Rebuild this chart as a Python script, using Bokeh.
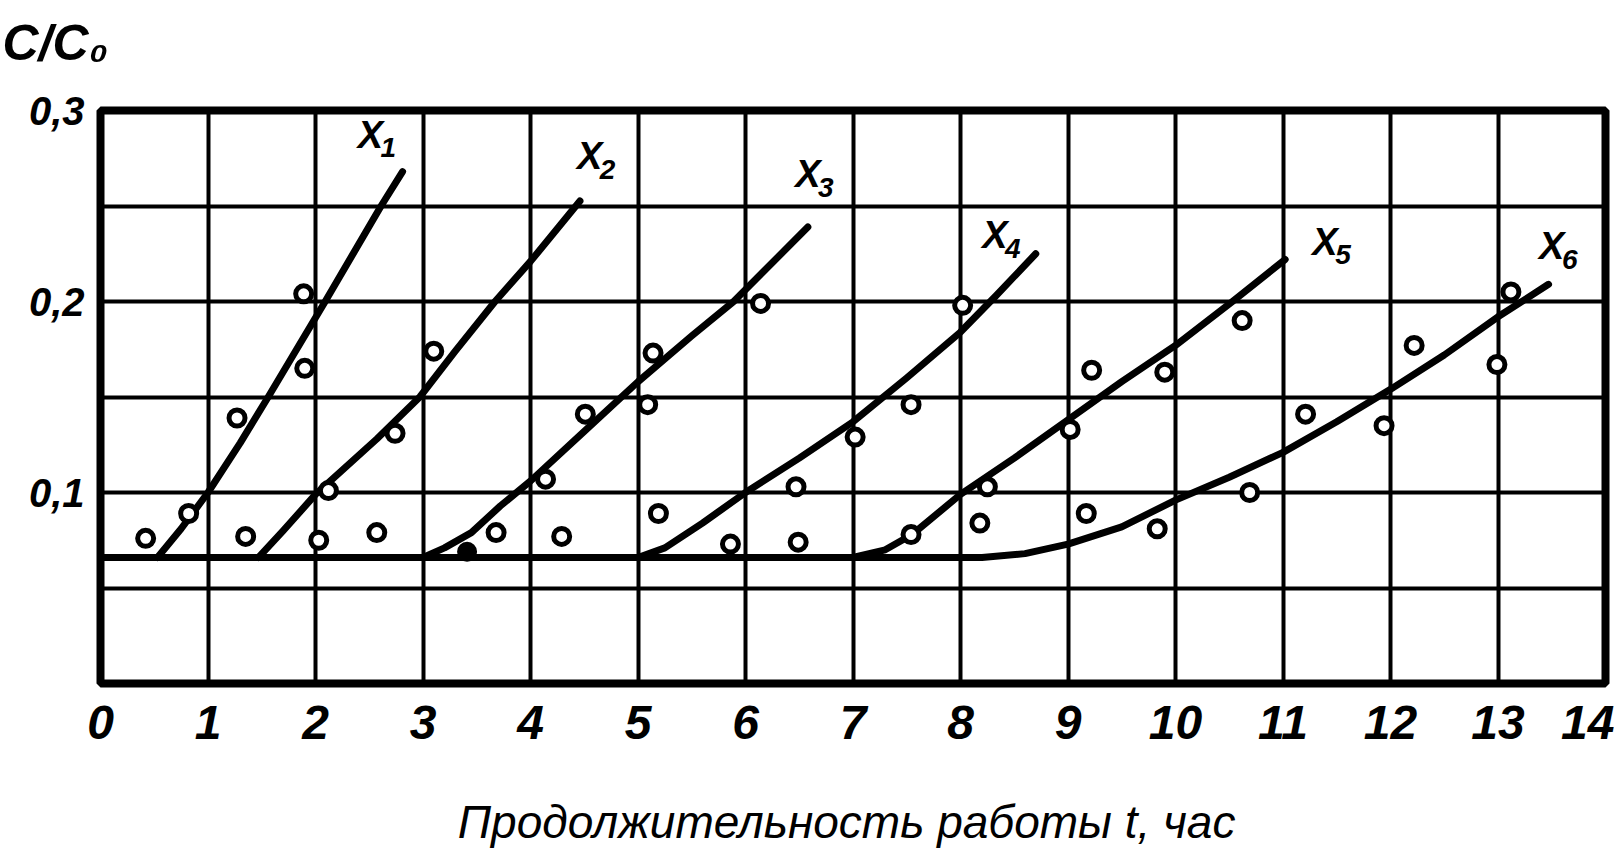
from bokeh.plotting import figure
from bokeh.models import Range1d, FixedTicker, Title
from bokeh.core.properties import value
from bokeh.embed import file_html
from bokeh.resources import INLINE

# ---------------- data ----------------
x_ticks = list(range(0, 15))
y_grid = [0.0, 0.05, 0.1, 0.15, 0.2, 0.25, 0.3]
y_ticks = [0.1, 0.2, 0.3]
y_tick_labels = {0.1: "0,1", 0.2: "0,2", 0.3: "0,3"}

x_title = "Продолжительность  работы t, час"
y_title = "C/C₀"

# measured points (t, C/C0)
point_t = [0.42, 0.82, 1.27, 1.35, 1.89, 1.90, 2.03, 2.12, 2.57, 2.74, 3.10,
           3.68, 4.14, 4.29, 4.51, 5.09, 5.14, 5.19, 5.86, 6.14, 6.47, 6.49,
           7.02, 7.54, 7.54, 8.02, 8.18, 8.25, 9.02, 9.17, 9.22, 9.90, 9.83,
           10.62, 10.69, 11.21, 11.94, 12.22, 12.99, 13.12]
point_c = [0.076, 0.089, 0.139, 0.077, 0.204, 0.165, 0.075, 0.101, 0.079, 0.131, 0.174,
           0.079, 0.107, 0.077, 0.141, 0.146, 0.173, 0.089, 0.073, 0.199, 0.103, 0.074,
           0.129, 0.146, 0.078, 0.198, 0.084, 0.103, 0.133, 0.089, 0.164, 0.163, 0.081,
           0.190, 0.100, 0.141, 0.135, 0.177, 0.167, 0.205]
filled_t = [3.41]
filled_c = [0.069]

# fitted curves X1..X6
x1_t = [0.53, 0.75, 1.0, 1.3, 1.56, 2.09, 2.61, 2.81]
x1_c = [0.066, 0.081, 0.1, 0.126, 0.15, 0.2, 0.25, 0.268]
x2_t = [1.47, 1.7, 2.0, 2.57, 2.97, 3.3, 3.67, 4.0, 4.46]
x2_c = [0.066, 0.08, 0.099, 0.128, 0.15, 0.174, 0.2, 0.221, 0.2526]
x3_t = [3.0, 3.2, 3.45, 3.72, 4.0, 4.5, 5.0, 5.5, 5.89, 6.58]
x3_c = [0.066, 0.071, 0.079, 0.093, 0.106, 0.132, 0.158, 0.182, 0.2, 0.239]
x4_t = [5.0, 5.25, 5.6, 6.0, 6.5, 7.0, 7.5, 8.0, 8.33, 8.7]
x4_c = [0.066, 0.071, 0.084, 0.1, 0.118, 0.137, 0.16, 0.184, 0.203, 0.225]
x5_t = [7.0, 7.3, 7.55, 8.0, 8.5, 9.0, 9.5, 10.0, 10.53, 11.02]
x5_c = [0.066, 0.07, 0.078, 0.099, 0.118, 0.138, 0.158, 0.177, 0.2, 0.222]
x6_t = [0.0, 8.2, 8.6, 9.0, 9.5, 10.0, 10.5, 11.0, 11.5, 12.0, 12.5, 13.0, 13.47]
x6_c = [0.066, 0.066, 0.068, 0.073, 0.082, 0.096, 0.108, 0.121, 0.137, 0.154, 0.172, 0.192, 0.209]

curve_names = ["X", "X", "X", "X", "X", "X"]
curve_subs = ["1", "2", "3", "4", "5", "6"]
label_t = [2.51, 4.55, 6.58, 8.32, 11.39, 13.50]
label_c = [0.2874, 0.276, 0.2667, 0.2347, 0.2314, 0.2288]

# ---------------- styling ----------------
FONT = "Liberation Sans"

p = figure(width=1614, height=855,
           x_range=Range1d(0, 14), y_range=Range1d(0, 0.3),
           output_backend="svg", toolbar_location=None,
           min_border_left=100, min_border_right=9,
           min_border_top=110, min_border_bottom=172)
p.background_fill_color = "white"
p.border_fill_color = "white"
p.outline_line_color = "black"
p.outline_line_width = 8

p.xaxis.ticker = FixedTicker(ticks=x_ticks)
p.yaxis.ticker = FixedTicker(ticks=y_ticks)
p.yaxis.major_label_overrides = y_tick_labels
p.ygrid.ticker = FixedTicker(ticks=y_grid)

for g in (p.xgrid, p.ygrid):
    g.grid_line_color = "black"
    g.grid_line_width = 4
    g.grid_line_alpha = 1.0

for ax in (p.xaxis, p.yaxis):
    ax.axis_line_color = None
    ax.major_tick_line_color = None
    ax.minor_tick_line_color = None
    ax.major_tick_out = 0
    ax.major_tick_in = 0
    ax.major_label_text_color = "black"
    ax.major_label_text_font = FONT
    ax.major_label_text_font_style = "bold italic"

p.xaxis.major_label_text_font_size = "48px"
p.xaxis.major_label_standoff = 22
p.yaxis.major_label_text_font_size = "40px"
p.yaxis.major_label_standoff = 16

p.xaxis.axis_label = x_title
p.xaxis.axis_label_text_font = FONT
p.xaxis.axis_label_text_font_size = "46px"
p.xaxis.axis_label_text_font_style = "italic"
p.xaxis.axis_label_text_color = "black"
p.xaxis.axis_label_standoff = 54

# y title C/C0 (top-left, horizontal); a blank second line lifts it up
p.add_layout(Title(text=y_title + "\n\u00a0", align="left", offset=-98,
                   standoff=8, vertical_align="top",
                   text_font=FONT, text_font_size="50px",
                   text_line_height=0.6,
                   text_font_style="bold italic", text_color="black"), "above")

# curves
for t, c in ((x1_t, x1_c), (x2_t, x2_c), (x3_t, x3_c),
             (x4_t, x4_c), (x5_t, x5_c), (x6_t, x6_c)):
    p.line(t, c, line_color="black", line_width=7,
           line_cap="round", line_join="round")

# points
p.scatter(point_t, point_c, marker="circle", size=16,
          fill_color="white", line_color="black", line_width=5)
p.scatter(filled_t, filled_c, marker="circle", size=17,
          fill_color="black", line_color="black", line_width=3)

# curve labels
p.text(label_t, label_c, text=curve_names, text_font=value(FONT),
       text_font_size="38px", text_font_style="bold italic",
       text_align="center", text_baseline="middle", text_color="black")
p.text(label_t, label_c, text=curve_subs, text_font=value(FONT),
       text_font_size="28px", text_font_style="bold italic",
       text_align="center", text_baseline="middle", text_color="black",
       x_offset=18, y_offset=13)

open("out.html", "w").write(file_html(p, INLINE))
